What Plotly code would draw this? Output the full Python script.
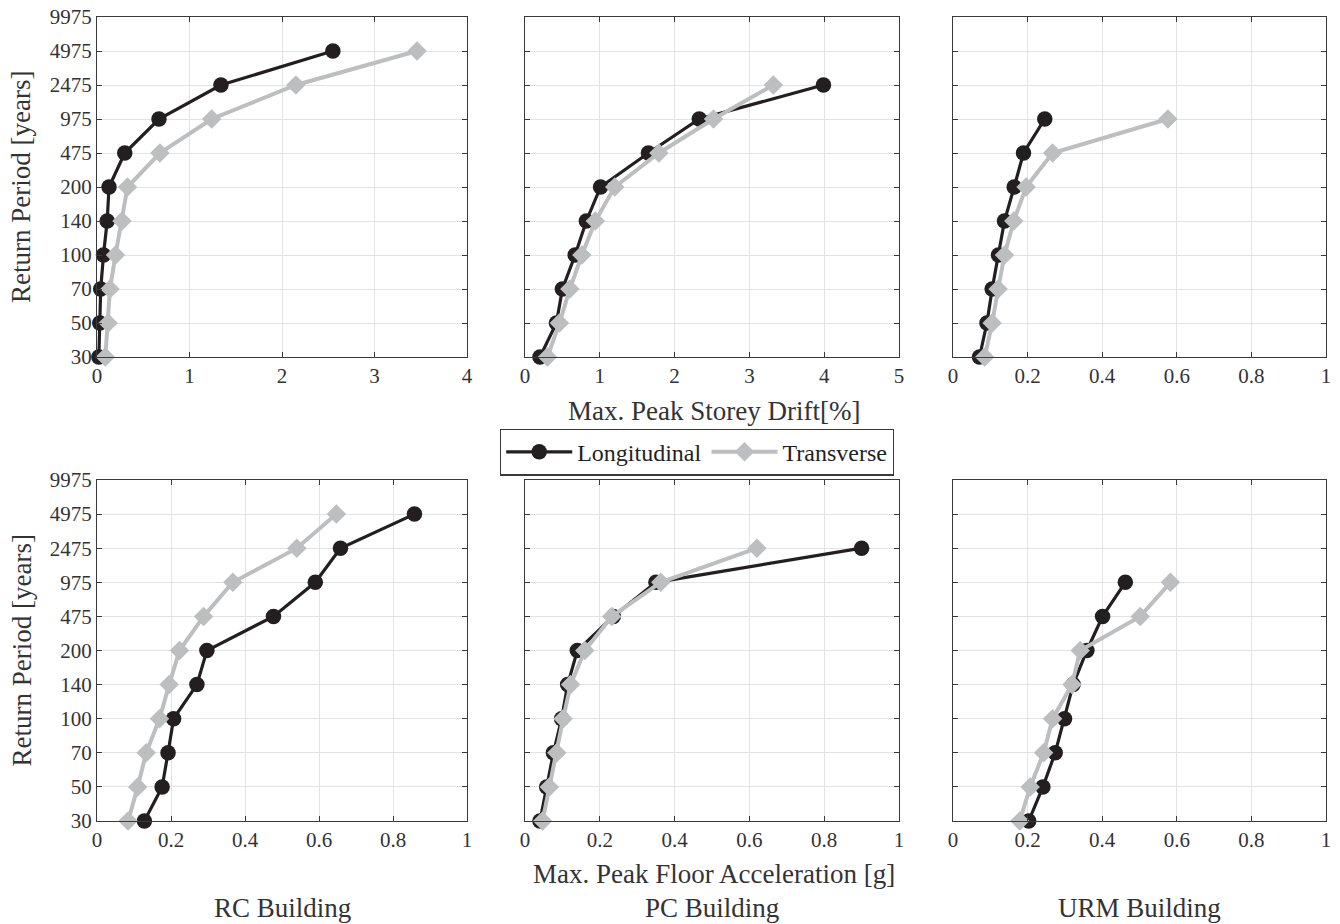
import plotly.graph_objects as go

# ---- data ----
rp_labels = ["30", "50", "70", "100", "140", "200", "475", "975", "2475", "4975", "9975"]
rp_index = list(range(len(rp_labels)))

# Max peak storey drift [%]
rc_drift_long = [0.02, 0.03, 0.04, 0.07, 0.11, 0.13, 0.30, 0.67, 1.34, 2.55]
rc_drift_trans = [0.09, 0.12, 0.14, 0.20, 0.27, 0.33, 0.68, 1.24, 2.15, 3.46]
pc_drift_long = [0.20, 0.42, 0.50, 0.67, 0.82, 1.01, 1.65, 2.33, 3.99]
pc_drift_trans = [0.30, 0.46, 0.60, 0.76, 0.94, 1.20, 1.79, 2.52, 3.32]
urm_drift_long = [0.071, 0.091, 0.105, 0.122, 0.138, 0.164, 0.189, 0.246]
urm_drift_trans = [0.085, 0.105, 0.121, 0.138, 0.163, 0.196, 0.267, 0.576]

# Max peak floor acceleration [g]
rc_pfa_long = [0.128, 0.176, 0.192, 0.207, 0.270, 0.297, 0.477, 0.590, 0.658, 0.858]
rc_pfa_trans = [0.084, 0.110, 0.133, 0.169, 0.195, 0.223, 0.288, 0.367, 0.540, 0.647]
pc_pfa_long = [0.040, 0.058, 0.076, 0.098, 0.114, 0.140, 0.236, 0.350, 0.900]
pc_pfa_trans = [0.047, 0.065, 0.085, 0.102, 0.122, 0.160, 0.232, 0.363, 0.620]
urm_pfa_long = [0.203, 0.241, 0.274, 0.299, 0.322, 0.359, 0.401, 0.462]
urm_pfa_trans = [0.179, 0.207, 0.243, 0.267, 0.319, 0.341, 0.502, 0.583]

x_ranges = [[0, 4], [0, 5], [0, 1], [0, 1], [0, 1], [0, 1]]
building_labels = ["RC Building", "PC Building", "URM Building"]

panels = [
    (rc_drift_long, rc_drift_trans),
    (pc_drift_long, pc_drift_trans),
    (urm_drift_long, urm_drift_trans),
    (rc_pfa_long, rc_pfa_trans),
    (pc_pfa_long, pc_pfa_trans),
    (urm_pfa_long, urm_pfa_trans),
]

# ---- layout geometry ----
W, H = 1340, 924
col_px = [(97, 467), (525, 899), (953, 1326)]
row_px = [(17, 357), (480, 821)]

BLACK = "#231f20"
GRAY = "#bcbec0"
FRAME = "#3a3a3a"
TXT = "#333333"
FONT = "Liberation Serif"

fig = go.Figure()

for i, (long_v, trans_v) in enumerate(panels):
    r, c = divmod(i, 3)
    ax = "" if i == 0 else str(i + 1)
    xa, ya = "x" + ax, "y" + ax
    fig.add_trace(go.Scatter(
        x=long_v, y=rp_index[:len(long_v)], xaxis=xa, yaxis=ya,
        mode="lines+markers", name="Longitudinal",
        line=dict(color=BLACK, width=3.2),
        marker=dict(symbol="circle", size=15.5, color=BLACK),
        cliponaxis=False, showlegend=(i == 0),
    ))
    fig.add_trace(go.Scatter(
        x=trans_v, y=rp_index[:len(trans_v)], xaxis=xa, yaxis=ya,
        mode="lines+markers", name="Transverse",
        line=dict(color=GRAY, width=4),
        marker=dict(symbol="diamond", size=15, color=GRAY),
        cliponaxis=False, showlegend=(i == 0),
    ))
    x0, x1 = col_px[c]
    y0, y1 = row_px[r]
    common = dict(
        showline=True, mirror="allticks", linecolor=FRAME, linewidth=1.2,
        ticks="inside", ticklen=5, tickcolor=FRAME,
        showgrid=True, gridcolor="#e3e3e3", gridwidth=1,
        zeroline=False, tickfont=dict(family=FONT, size=21, color=TXT),
        automargin=False,
    )
    fig.layout["xaxis" + ax] = dict(
        domain=[x0 / W, x1 / W], anchor=ya, range=x_ranges[i], **common)
    fig.layout["yaxis" + ax] = dict(
        domain=[1 - y1 / H, 1 - y0 / H], anchor=xa, range=[0, 10],
        tickvals=rp_index, ticktext=rp_labels if c == 0 else [""] * len(rp_labels),
        **common)

ann = []
def add_text(text, px, py, size, angle=0):
    ann.append(dict(text=text, x=px / W, y=1 - py / H, xref="paper", yref="paper",
                    xanchor="center", yanchor="middle", showarrow=False,
                    textangle=angle, font=dict(family=FONT, size=size, color=TXT)))

add_text("Max. Peak Storey Drift[%]", 714, 411, 27)
add_text("Max. Peak Floor Acceleration [g]", 714, 874, 27)
for c, lab in enumerate(building_labels):
    x0, x1 = col_px[c]
    add_text(lab, (x0 + x1) / 2, 908, 27)
for r in range(2):
    y0, y1 = row_px[r]
    add_text("Return Period [years]", 21, (y0 + y1) / 2, 27, -90)

fig.update_layout(
    width=W, height=H, margin=dict(l=0, r=0, t=0, b=0, autoexpand=False),
    paper_bgcolor="white", plot_bgcolor="white",
    annotations=ann,
    showlegend=True,
    legend=dict(orientation="h", x=697 / W, y=1 - 452 / H,
                xanchor="center", yanchor="middle",
                bordercolor=FRAME, borderwidth=1.2, bgcolor="white",
                font=dict(family=FONT, size=24, color=BLACK),
                itemwidth=66, traceorder="normal"),
)

fig.write_html("out.html")
